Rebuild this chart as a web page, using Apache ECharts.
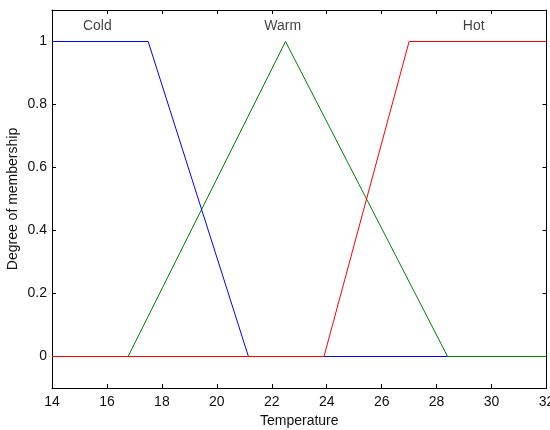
<!DOCTYPE html>
<html>
<head>
<meta charset="utf-8">
<script src="https://cdn.jsdelivr.net/npm/echarts@6/dist/echarts.min.js"></script>
<style>html,body{margin:0;padding:0;background:#fff}#c{width:550px;height:430px}</style>
</head>
<body>
<div id="c"></div>
<script>
// Membership functions (x = temperature, y = degree)
var coldX = [14, 17.5, 21.15, 28.4];
var coldY = [1, 1, 0, 0];
var warmX = [14, 16.77, 22.5, 28.4, 32];
var warmY = [0, 0, 1, 0, 0];
var hotX = [14, 23.9, 27, 32];
var hotY = [0, 0, 1, 1];
// Set labels
var labelNames = ['Cold', 'Warm', 'Hot'];
var labelX = [15.65, 22.4, 29.35];
var labelY = [1.05, 1.05, 1.05];
var xTicks = [14, 16, 18, 20, 22, 24, 26, 28, 30, 32];
var yTicks = [0, 0.2, 0.4, 0.6, 0.8, 1];

function pairs(xs, ys) { return xs.map(function (x, i) { return [x, ys[i]]; }); }

var font = 'Liberation Sans, Arial, sans-serif';
var fs = 14;
var tick = { show: true, inside: true, length: 4, lineStyle: { color: '#000' } };
var line = { show: true, onZero: false, lineStyle: { color: '#000', width: 1 } };

var chart = echarts.init(document.getElementById('c'), null, { renderer: 'canvas' });
chart.setOption({
  backgroundColor: '#fff',
  animation: false,
  grid: { left: 52, right: 3.5, top: 10, bottom: 42, containLabel: false, outerBoundsMode: 'none' },
  xAxis: [
    {
      type: 'value', min: 14, max: 32, interval: 2, position: 'bottom',
      name: 'Temperature', nameLocation: 'middle', nameGap: 26, nameMoveOverlap: false,
      nameTextStyle: { color: '#111', fontFamily: font, fontSize: fs },
      axisLabel: { color: '#111', fontFamily: font, fontSize: fs, margin: 7, customValues: xTicks },
      axisTick: Object.assign({}, tick, { customValues: xTicks }),
      axisLine: line, splitLine: { show: false }
    },
    {
      type: 'value', min: 14, max: 32, interval: 2, position: 'top',
      axisLabel: { show: false },
      axisTick: Object.assign({}, tick, { customValues: xTicks }),
      axisLine: line, splitLine: { show: false }
    }
  ],
  yAxis: [
    {
      type: 'value', min: -0.1, max: 1.1, position: 'left',
      name: 'Degree of membership', nameLocation: 'middle', nameGap: 32, nameMoveOverlap: false,
      nameTextStyle: { color: '#111', fontFamily: font, fontSize: fs },
      axisLabel: { color: '#111', fontFamily: font, fontSize: fs, margin: 5, customValues: yTicks },
      axisTick: Object.assign({}, tick, { customValues: yTicks }),
      axisLine: line, splitLine: { show: false }
    },
    {
      type: 'value', min: -0.1, max: 1.1, position: 'right',
      axisLabel: { show: false, customValues: yTicks },
      axisTick: Object.assign({}, tick, { customValues: yTicks }),
      axisLine: line, splitLine: { show: false }
    }
  ],
  series: [
    { type: 'line', name: 'Warm', data: pairs(warmX, warmY), symbol: 'none', z: 2,
      lineStyle: { color: '#008000', width: 1 } },
    { type: 'line', name: 'Cold', data: pairs(coldX, coldY), symbol: 'none', z: 3,
      lineStyle: { color: '#0000ff', width: 1 } },
    { type: 'line', name: 'Hot', data: pairs(hotX, hotY), symbol: 'none', z: 4,
      lineStyle: { color: '#ff0000', width: 1 } },
    { type: 'scatter', symbolSize: 0, z: 5,
      data: labelNames.map(function (n, i) { return { name: n, value: [labelX[i], labelY[i]] }; }),
      label: { show: true, position: 'inside', formatter: '{b}', color: '#111', fontFamily: font, fontSize: fs } }
  ]
});
</script>
</body>
</html>
